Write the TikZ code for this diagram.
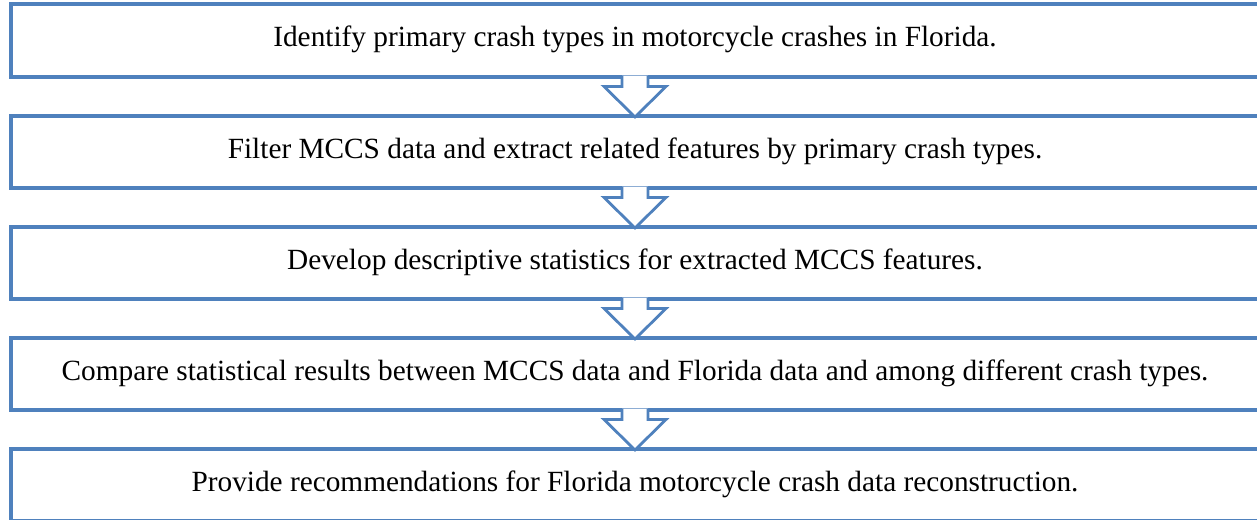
\documentclass[tikz,border=0pt]{standalone}
\usepackage{fontspec}
\setmainfont{Liberation Serif}
\usepackage{xcolor}
\usepackage{tikz}
\definecolor{boxColor}{RGB}{79, 129, 189}

\tikzset{
  stepBox/.style={draw=boxColor, line width=4, rectangle, outer sep=0pt, inner sep=0pt,
    minimum width=1248, minimum height=72.5, text height=18.5, text depth=6,
    font=\fontsize{29.3}{34}\selectfont},
  blockArrow/.style={draw=boxColor, fill=white, line width=2.8, line join=miter}
}

\begin{document}
\begin{tikzpicture}[x=1pt, y=-1pt]
  \useasboundingbox (0,0) rectangle (1257,519);
  \clip (0,0) rectangle (1257,519);

  % Steps of the study, top to bottom
  \node[stepBox] (s1) at (635, 40.75) {Identify primary crash types in motorcycle crashes in Florida.};
  \node[stepBox] (s2) at (635, 151.75) {Filter MCCS data and extract related features by primary crash types.};
  \node[stepBox] (s3) at (635, 262.75) {Develop descriptive statistics for extracted MCCS features.};
  \node[stepBox] (s4) at (635, 373.75) {Compare statistical results between MCCS data and Florida data and among different crash types.};
  \node[stepBox, text depth=4.5] (s5) at (635, 484.75) {Provide recommendations for Florida motorcycle crash data reconstruction.};

  % Down arrows between the boxes
  \draw[blockArrow, shift={(s1.south)}] (-13,-1.5) -- (-13,9.5) -- (-31,9.5) -- (0,40) -- (31,9.5) -- (13,9.5) -- (13,-1.5);
  \draw[blockArrow, shift={(s2.south)}] (-13,-1.5) -- (-13,9.5) -- (-31,9.5) -- (0,40) -- (31,9.5) -- (13,9.5) -- (13,-1.5);
  \draw[blockArrow, shift={(s3.south)}] (-13,-1.5) -- (-13,9.5) -- (-31,9.5) -- (0,40) -- (31,9.5) -- (13,9.5) -- (13,-1.5);
  \draw[blockArrow, shift={(s4.south)}] (-13,-1.5) -- (-13,9.5) -- (-31,9.5) -- (0,40) -- (31,9.5) -- (13,9.5) -- (13,-1.5);
\end{tikzpicture}
\end{document}
